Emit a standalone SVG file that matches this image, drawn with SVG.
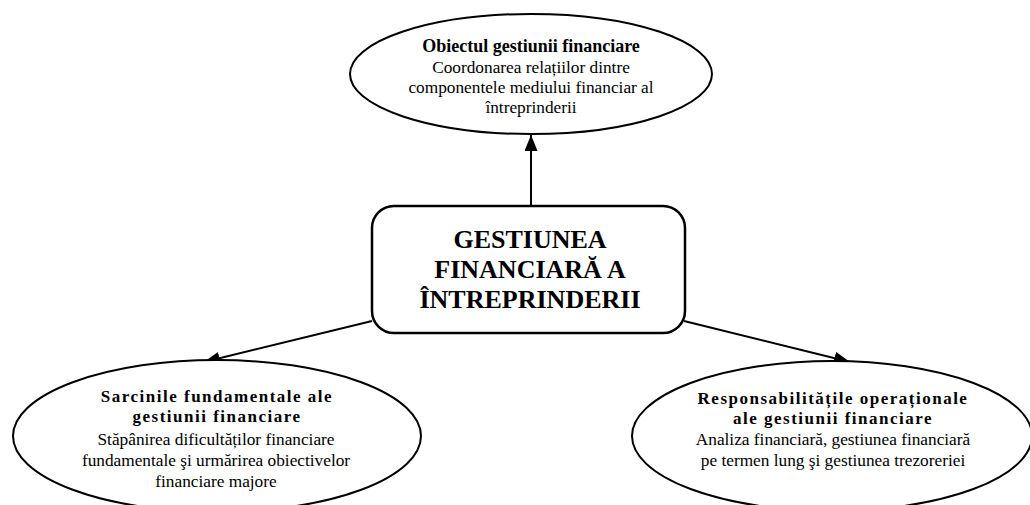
<svg xmlns="http://www.w3.org/2000/svg" width="1030" height="505" viewBox="0 0 1030 505">
<style>
.shape{fill:#fff;stroke:#000;stroke-width:2}
.t{font-family:"Liberation Serif","Times New Roman",serif;fill:#000;text-anchor:middle}
.r{font-size:17.3px}
.b{font-size:17px;font-weight:bold;letter-spacing:1.5px}
.bt{font-size:18px;font-weight:bold}
.c{font-size:26px;font-weight:bold}
.con{stroke:#000;stroke-width:2;fill:none;marker-end:url(#ah)}
</style>
<defs>
<marker id="ah" markerUnits="userSpaceOnUse" markerWidth="18" markerHeight="14" refX="16" refY="6.5" orient="auto">
<path d="M0,0 L16,6.5 L0,13 Z" fill="#000"/>
</marker>
</defs>
<rect width="1030" height="505" fill="#fff"/>
<g id="connectors">
<line class="con" x1="531" y1="207" x2="531" y2="135"/>
<line class="con" x1="372" y1="321" x2="204" y2="362"/>
<line class="con" x1="684" y1="321" x2="850" y2="362"/>
</g>
<g id="node-top">
<ellipse class="shape" cx="531" cy="74" rx="181" ry="60"/>
<text class="t bt" x="531" y="52">Obiectul gestiunii financiare</text>
<text class="t r" x="531" y="73">Coordonarea relațiilor dintre</text>
<text class="t r" x="531" y="93">componentele mediului financiar al</text>
<text class="t r" x="531" y="113">întreprinderii</text>
</g>
<g id="node-center">
<rect x="372" y="206" width="313" height="127" rx="22" ry="22" fill="#fff" stroke="#000" stroke-width="2.5"/>
<text class="t c" x="530" y="248">GESTIUNEA</text>
<text class="t c" x="530" y="278">FINANCIARĂ A</text>
<text class="t c" x="530" y="308">ÎNTREPRINDERII</text>
</g>
<g id="node-left">
<ellipse class="shape" cx="217" cy="436" rx="204" ry="76"/>
<text class="t b" x="217" y="402">Sarcinile fundamentale ale</text>
<text class="t b" x="217" y="422">gestiunii financiare</text>
<text class="t r" x="216" y="445">Stăpânirea dificultăților financiare</text>
<text class="t r" x="216" y="466">fundamentale şi urmărirea obiectivelor</text>
<text class="t r" x="216" y="487">financiare majore</text>
</g>
<g id="node-right">
<ellipse class="shape" cx="832" cy="436" rx="200" ry="75"/>
<text class="t b" x="833" y="404">Responsabilitățile operaționale</text>
<text class="t b" x="833" y="424">ale gestiunii financiare</text>
<text class="t r" x="833" y="445">Analiza financiară, gestiunea financiară</text>
<text class="t r" x="833" y="466">pe termen lung şi gestiunea trezoreriei</text>
</g>
</svg>
